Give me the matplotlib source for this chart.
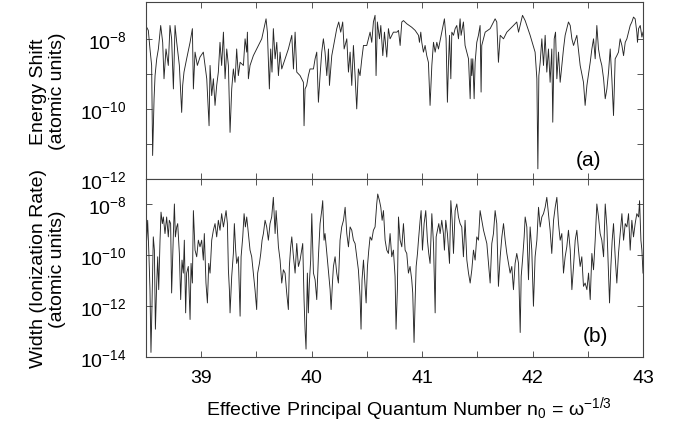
import numpy as np
import matplotlib
matplotlib.use("Agg")
import matplotlib.pyplot as plt

plt.rcParams['font.family'] = ['Liberation Sans', 'DejaVu Sans']
plt.rcParams['mathtext.fontset'] = 'custom'
plt.rcParams['mathtext.rm'] = 'Liberation Sans'
plt.rcParams['mathtext.it'] = 'Liberation Sans:italic'

# (a) energy shift: n0 and log10(shift in a.u.)
n_a = [38.500, 38.506, 38.521, 38.536, 38.551, 38.560, 38.573, 38.582, 38.597, 38.612,
       38.633, 38.651, 38.663, 38.681, 38.702, 38.717, 38.732, 38.748, 38.763, 38.778,
       38.802, 38.823, 38.832, 38.844, 38.868, 38.899, 38.920, 38.929, 38.944, 38.965,
       38.989, 39.019, 39.050, 39.071, 39.080, 39.095, 39.110, 39.125, 39.140, 39.155,
       39.170, 39.185, 39.201, 39.216, 39.231, 39.246, 39.261, 39.276, 39.291, 39.306,
       39.321, 39.336, 39.352, 39.382, 39.397, 39.412, 39.418, 39.427, 39.442, 39.472,
       39.502, 39.548, 39.587, 39.599, 39.617, 39.629, 39.641, 39.653, 39.669, 39.684,
       39.699, 39.714, 39.729, 39.759, 39.789, 39.820, 39.835, 39.850, 39.865, 39.895,
       39.925, 39.931, 39.940, 39.955, 39.970, 39.985, 40.016, 40.031, 40.046, 40.061,
       40.076, 40.091, 40.106, 40.121, 40.137, 40.152, 40.161, 40.182, 40.227, 40.245,
       40.263, 40.281, 40.294, 40.318, 40.333, 40.348, 40.363, 40.378, 40.393, 40.408,
       40.423, 40.438, 40.454, 40.469, 40.499, 40.529, 40.544, 40.559, 40.574, 40.583,
       40.595, 40.614, 40.626, 40.644, 40.659, 40.680, 40.695, 40.710, 40.740, 40.771,
       40.786, 40.801, 40.816, 40.831, 40.861, 40.906, 40.937, 40.967, 40.976, 40.988,
       40.997, 41.012, 41.027, 41.042, 41.057, 41.072, 41.088, 41.103, 41.118, 41.133,
       41.148, 41.178, 41.202, 41.217, 41.229, 41.238, 41.248, 41.260, 41.269, 41.284,
       41.299, 41.314, 41.329, 41.344, 41.353, 41.374, 41.389, 41.420, 41.435, 41.444,
       41.450, 41.459, 41.471, 41.480, 41.495, 41.510, 41.525, 41.534, 41.540, 41.571,
       41.616, 41.661, 41.676, 41.691, 41.707, 41.737, 41.767, 41.827, 41.857, 41.873,
       41.909, 41.933, 41.978, 42.023, 42.039, 42.048, 42.057, 42.069, 42.084, 42.099,
       42.114, 42.129, 42.144, 42.159, 42.174, 42.183, 42.196, 42.208, 42.220, 42.235,
       42.250, 42.265, 42.280, 42.295, 42.310, 42.325, 42.341, 42.356, 42.371, 42.401,
       42.431, 42.461, 42.476, 42.492, 42.522, 42.537, 42.552, 42.567, 42.582, 42.597,
       42.612, 42.627, 42.643, 42.658, 42.673, 42.688, 42.703, 42.718, 42.733, 42.748,
       42.763, 42.778, 42.793, 42.809, 42.824, 42.839, 42.854, 42.884, 42.899, 42.914,
       42.929, 42.944, 42.950, 42.960, 42.975, 42.990, 43.000]
log_a = [-7.90, -7.67, -7.76, -8.29, -8.76, -11.33, -9.71, -9.05, -8.57, -8.29,
         -7.62, -8.10, -9.14, -8.29, -8.76, -7.62, -8.00, -9.43, -7.62, -8.10,
         -8.76, -10.10, -9.33, -8.95, -8.57, -8.10, -7.71, -9.43, -8.38, -8.76,
         -8.52, -8.38, -9.14, -10.48, -8.76, -9.62, -9.14, -9.90, -9.33, -8.95,
         -8.10, -8.76, -7.81, -9.14, -8.29, -8.76, -10.67, -9.43, -8.86, -9.24,
         -8.29, -9.05, -8.67, -8.76, -8.00, -8.38, -7.81, -9.14, -8.76, -8.48,
         -8.29, -8.00, -7.43, -7.81, -9.43, -8.29, -8.95, -7.71, -8.57, -8.10,
         -9.05, -8.38, -8.86, -8.57, -8.29, -7.90, -8.86, -7.81, -8.95, -9.05,
         -9.24, -10.48, -9.43, -9.33, -9.05, -8.86, -8.86, -8.57, -8.38, -9.81,
         -9.05, -8.38, -8.00, -8.38, -9.05, -8.29, -9.33, -8.48, -7.71, -7.52,
         -7.81, -7.52, -8.29, -8.00, -8.95, -8.38, -9.33, -8.19, -9.05, -10.00,
         -8.86, -9.05, -8.57, -8.19, -8.19, -7.81, -8.10, -7.52, -7.33, -9.05,
         -7.52, -8.00, -7.62, -8.48, -7.81, -8.52, -7.71, -8.00, -7.81, -7.81,
         -7.76, -8.19, -7.52, -7.48, -7.57, -7.67, -7.76, -7.90, -8.10, -7.81,
         -8.10, -8.38, -8.19, -8.48, -8.67, -9.90, -8.76, -8.10, -8.38, -8.10,
         -8.29, -7.81, -7.43, -8.00, -9.81, -8.76, -7.90, -9.14, -7.81, -7.90,
         -7.71, -7.62, -8.00, -7.43, -7.90, -7.52, -8.19, -8.57, -9.71, -8.57,
         -9.05, -8.57, -9.71, -8.67, -8.10, -7.90, -7.62, -9.52, -8.19, -7.81,
         -7.71, -7.43, -7.52, -8.67, -7.90, -8.00, -7.81, -7.62, -7.52, -7.81,
         -7.33, -7.48, -7.90, -8.38, -9.14, -11.71, -9.05, -8.67, -8.00, -8.76,
         -7.90, -8.95, -8.29, -9.24, -8.29, -10.38, -8.00, -7.81, -9.14, -8.38,
         -9.24, -8.76, -8.29, -7.90, -7.71, -7.52, -7.62, -8.00, -8.19, -7.90,
         -8.76, -9.24, -9.90, -9.33, -8.67, -8.29, -8.00, -8.57, -7.62, -8.29,
         -8.57, -8.76, -9.14, -9.71, -9.43, -8.95, -8.29, -9.14, -10.19, -8.57,
         -8.48, -8.38, -8.00, -8.19, -8.48, -8.10, -8.00, -7.62, -7.52, -7.38,
         -7.43, -7.81, -8.10, -7.71, -7.62, -7.95, -7.81]

# (b) width (ionization rate): n0 and log10(width in a.u.)
n_b = [38.500, 38.506, 38.515, 38.527, 38.536, 38.545, 38.554, 38.566, 38.576, 38.585,
       38.597, 38.606, 38.615, 38.627, 38.636, 38.648, 38.657, 38.672, 38.687, 38.702,
       38.711, 38.723, 38.732, 38.748, 38.757, 38.766, 38.778, 38.787, 38.802, 38.814,
       38.826, 38.838, 38.847, 38.859, 38.868, 38.883, 38.899, 38.908, 38.920, 38.929,
       38.944, 38.959, 38.974, 38.989, 39.004, 39.019, 39.028, 39.043, 39.056, 39.068,
       39.080, 39.095, 39.110, 39.125, 39.140, 39.155, 39.170, 39.185, 39.201, 39.216,
       39.225, 39.237, 39.246, 39.255, 39.261, 39.276, 39.291, 39.300, 39.312, 39.321,
       39.336, 39.352, 39.361, 39.376, 39.388, 39.400, 39.412, 39.427, 39.442, 39.457,
       39.472, 39.487, 39.502, 39.511, 39.527, 39.539, 39.551, 39.563, 39.578, 39.593,
       39.608, 39.623, 39.638, 39.653, 39.669, 39.678, 39.690, 39.699, 39.714, 39.729,
       39.744, 39.759, 39.774, 39.789, 39.798, 39.810, 39.820, 39.835, 39.850, 39.865,
       39.880, 39.895, 39.910, 39.919, 39.931, 39.940, 39.949, 39.961, 39.970, 39.979,
       39.991, 40.001, 40.016, 40.031, 40.046, 40.061, 40.076, 40.091, 40.100, 40.112,
       40.121, 40.137, 40.152, 40.167, 40.176, 40.188, 40.197, 40.212, 40.227, 40.242,
       40.257, 40.272, 40.288, 40.303, 40.318, 40.333, 40.348, 40.363, 40.378, 40.393,
       40.408, 40.423, 40.438, 40.447, 40.456, 40.469, 40.484, 40.493, 40.505, 40.517,
       40.529, 40.544, 40.559, 40.574, 40.589, 40.598, 40.614, 40.626, 40.638, 40.650,
       40.665, 40.680, 40.695, 40.710, 40.725, 40.740, 40.755, 40.764, 40.776, 40.786,
       40.801, 40.816, 40.831, 40.846, 40.861, 40.876, 40.891, 40.906, 40.915, 40.927,
       40.937, 40.946, 40.958, 40.967, 40.982, 40.991, 41.003, 41.018, 41.033, 41.048,
       41.060, 41.072, 41.088, 41.103, 41.118, 41.127, 41.139, 41.151, 41.163, 41.178,
       41.193, 41.202, 41.214, 41.229, 41.248, 41.260, 41.272, 41.284, 41.299, 41.314,
       41.329, 41.344, 41.359, 41.374, 41.389, 41.405, 41.420, 41.435, 41.450, 41.465,
       41.480, 41.495, 41.510, 41.525, 41.540, 41.556, 41.571, 41.586, 41.601, 41.616,
       41.631, 41.646, 41.661, 41.676, 41.691, 41.707, 41.722, 41.737, 41.752, 41.767,
       41.782, 41.797, 41.812, 41.827, 41.842, 41.857, 41.873, 41.888, 41.897, 41.909,
       41.924, 41.933, 41.948, 41.963, 41.978, 41.993, 42.008, 42.023, 42.039, 42.054,
       42.069, 42.084, 42.099, 42.114, 42.129, 42.144, 42.159, 42.174, 42.190, 42.205,
       42.220, 42.235, 42.250, 42.265, 42.280, 42.295, 42.310, 42.325, 42.341, 42.356,
       42.371, 42.386, 42.401, 42.416, 42.431, 42.446, 42.461, 42.476, 42.492, 42.507,
       42.522, 42.537, 42.552, 42.567, 42.582, 42.597, 42.612, 42.627, 42.643, 42.658,
       42.673, 42.688, 42.697, 42.709, 42.721, 42.733, 42.748, 42.763, 42.778, 42.793,
       42.809, 42.824, 42.839, 42.854, 42.869, 42.884, 42.899, 42.914, 42.929, 42.944,
       42.960, 42.969, 42.981, 42.990, 43.000]
log_b = [-8.77, -9.42, -8.64, -10.07, -11.36, -13.82, -12.01, -9.29, -9.81, -12.91,
         -11.10, -10.07, -11.36, -9.42, -8.32, -8.77, -8.51, -9.16, -8.51, -9.29,
         -8.64, -8.77, -11.49, -9.16, -8.00, -9.29, -8.90, -8.77, -9.94, -11.75,
         -10.20, -10.71, -9.42, -12.27, -10.71, -10.45, -12.53, -10.33, -11.10, -8.26,
         -9.81, -10.07, -9.42, -9.68, -9.42, -10.20, -9.16, -11.10, -11.88, -10.33,
         -10.71, -9.42, -9.03, -8.77, -9.29, -8.64, -9.03, -8.38, -8.90, -8.51,
         -8.26, -8.77, -10.58, -11.36, -12.27, -10.84, -9.94, -8.77, -9.81, -10.33,
         -10.07, -12.40, -10.07, -9.29, -8.38, -8.90, -8.51, -9.16, -9.81, -10.07,
         -10.71, -11.36, -12.14, -10.71, -10.33, -9.94, -9.42, -9.16, -8.64, -8.90,
         -9.42, -8.77, -8.51, -7.74, -9.16, -8.26, -9.03, -9.68, -10.20, -11.10,
         -10.58, -10.71, -11.49, -12.14, -10.45, -9.68, -9.29, -10.07, -10.71, -9.55,
         -10.45, -10.20, -9.81, -9.55, -11.75, -12.91, -13.69, -10.71, -12.27, -11.10,
         -10.20, -8.38, -10.71, -10.97, -11.75, -10.07, -8.77, -8.26, -7.87, -9.42,
         -9.16, -9.94, -10.71, -11.36, -12.14, -11.10, -10.45, -10.07, -10.71, -11.10,
         -9.42, -8.90, -8.64, -8.13, -9.16, -9.68, -8.90, -9.03, -9.42, -9.55,
         -10.07, -10.58, -11.62, -12.91, -10.97, -10.20, -11.23, -11.88, -10.45, -9.81,
         -9.29, -9.42, -9.03, -8.90, -8.00, -7.61, -7.87, -8.13, -8.64, -8.26,
         -9.42, -9.81, -9.94, -9.16, -10.07, -9.81, -10.84, -12.91, -11.36, -8.51,
         -9.42, -9.68, -8.77, -9.81, -9.94, -10.71, -10.45, -10.97, -11.49, -13.43,
         -11.75, -10.45, -9.94, -9.42, -8.64, -8.26, -9.81, -8.77, -8.26, -9.42,
         -9.94, -10.33, -8.38, -9.55, -12.27, -9.29, -9.03, -8.77, -9.16, -8.64,
         -9.16, -9.81, -8.64, -9.16, -10.33, -7.87, -8.64, -9.94, -8.26, -8.00,
         -8.51, -8.77, -8.90, -10.07, -8.64, -10.20, -10.71, -11.10, -10.58, -9.81,
         -10.20, -9.29, -9.42, -8.26, -8.64, -9.03, -9.29, -9.55, -10.33, -11.10,
         -9.55, -9.16, -8.26, -8.77, -11.23, -10.07, -9.29, -8.77, -9.42, -9.94,
         -10.33, -10.71, -10.45, -11.36, -10.33, -9.94, -10.33, -13.04, -10.84, -10.20,
         -9.29, -8.51, -8.90, -10.97, -8.90, -9.81, -12.01, -10.07, -9.42, -8.13,
         -8.90, -8.51, -8.38, -8.13, -7.74, -8.38, -9.03, -9.94, -8.64, -8.13,
         -7.74, -8.77, -9.42, -9.16, -10.71, -10.07, -9.68, -9.03, -9.81, -11.36,
         -10.45, -9.42, -9.03, -9.81, -10.45, -10.07, -11.23, -11.10, -11.36, -10.71,
         -11.75, -9.94, -10.58, -9.42, -8.00, -8.51, -9.16, -9.42, -10.07, -8.00,
         -8.90, -10.84, -11.88, -10.45, -9.42, -8.77, -10.07, -11.10, -9.94, -9.16,
         -8.38, -9.42, -8.77, -8.90, -8.38, -9.81, -8.64, -9.29, -8.77, -8.38,
         -8.51, -7.87, -9.42, -9.81, -10.71]

fig = plt.figure(figsize=(6.75, 4.31), dpi=100)
ax1 = fig.add_axes([0.2163, 0.5824, 0.7363, 0.4106])
ax2 = fig.add_axes([0.2163, 0.1694, 0.7363, 0.4130])

ax1.plot(n_a, 10.0 ** np.array(log_a), color='#262626', lw=0.65)
ax2.plot(n_b, 10.0 ** np.array(log_b), color='#262626', lw=0.65)

for ax in (ax1, ax2):
    ax.set_yscale('log')
    ax.set_xlim(38.5, 43.0)
    ax.set_xticks(np.arange(39.0, 43.01, 0.5))
    ax.minorticks_off()
    ax.tick_params(direction='in', top=True, right=True, length=4,
                   width=0.7, color='#555555', labelsize=14)
    for s in ax.spines.values():
        s.set_color('#444444')
        s.set_linewidth(0.8)

ax1.set_ylim(1e-12, 10 ** -6.95)
ax1.set_yticks([1e-12, 1e-11, 1e-10, 1e-9, 1e-8])
ax1.set_yticklabels([r'$\mathregular{10^{-12}}$', '', r'$\mathregular{10^{-10}}$', '',
                     r'$\mathregular{10^{-8}}$'])
ax1.tick_params(axis='x', labelbottom=False)
ax1.tick_params(axis='y', pad=14)

ax2.set_ylim(1e-14, 10 ** -7.02)
ax2.set_yticks([1e-14, 1e-12, 1e-10, 1e-8])
ax2.set_yticklabels([r'$\mathregular{10^{-14}}$', r'$\mathregular{10^{-12}}$',
                     r'$\mathregular{10^{-10}}$', r'$\mathregular{10^{-8}}$'])
ax2.tick_params(axis='y', pad=14)
ax2.tick_params(axis='x', pad=9)
ax2.set_xticklabels(['39', '', '40', '', '41', '', '42', '', '43'])

ax1.set_ylabel('Energy Shift\n(atomic units)', fontsize=14)
ax2.set_ylabel('Width (Ionization Rate)\n(atomic units)', fontsize=14)
ax1.yaxis.set_label_coords(-0.16, 0.5)
ax2.yaxis.set_label_coords(-0.16, 0.5)

ax2.set_xlabel('Effective Principal Quantum Number n$_0$ = \u03c9$^{-1/3}$', fontsize=14)
ax2.xaxis.set_label_coords(0.53, -0.21)

ax1.text(0.89, 0.11, '(a)', transform=ax1.transAxes, fontsize=15, ha='center', va='center')
ax2.text(0.905, 0.12, '(b)', transform=ax2.transAxes, fontsize=15, ha='center', va='center')

fig.savefig('out.png', dpi=100)
